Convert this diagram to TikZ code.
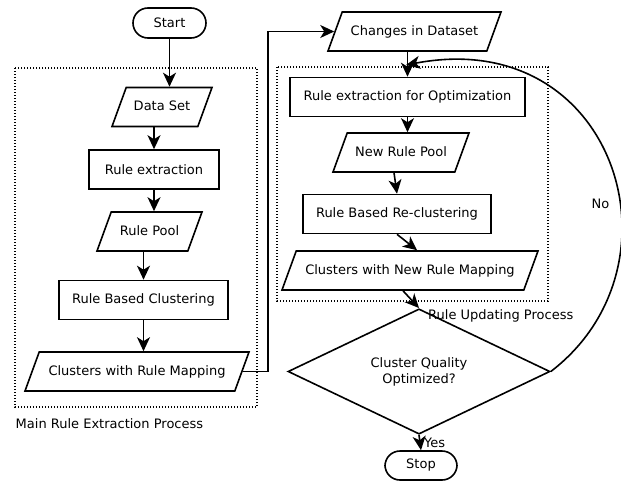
\documentclass[tikz,border=0pt]{standalone}
\usepackage{fontspec}
\setmainfont{DejaVu Sans}
\usetikzlibrary{shapes.geometric,arrows.meta}
\begin{document}
\begin{tikzpicture}[x=1pt,y=-1pt,
  every node/.style={font=\fontsize{13}{16}\selectfont},
  proc/.style={draw,line width=1.6pt,inner sep=0pt,minimum height=39pt},
  io/.style={draw,trapezium,trapezium left angle=70,trapezium right angle=110,trapezium stretches body=true,line width=1.6pt,text height=10pt,text depth=3pt,inner xsep=0pt,inner ysep=13pt},
  term/.style={draw,rounded corners=15pt,line width=1.6pt,inner sep=0pt,minimum height=30pt},
  decision/.style={draw,diamond,line width=1.6pt,inner sep=0pt,align=center},
  flow/.style={draw,line width=1.6pt,-{Stealth[length=14pt,width=13pt,inset=4pt]}},
  region/.style={line width=1.3pt,dash pattern=on 1.3pt off 1.7pt}]
\useasboundingbox (0,0) rectangle (621,482);
\draw[region] (15,68) rectangle (257,407);
\draw[region] (277,67) rectangle (548,301);

\node[term,minimum width=73pt] (start) at (169.5,23) {Start};
\node[io,minimum width=100pt] (dset) at (162,107) {Data Set};
\node[proc,minimum width=130pt] (rex) at (154,169.5) {Rule extraction};
\node[io,minimum width=105pt] (rpool) at (149.5,231.5) {Rule Pool};
\node[proc,minimum width=169pt] (rbc) at (143.5,300) {Rule Based Clustering};
\node[io,minimum width=224pt] (crm) at (137,371.5) {Clusters with Rule Mapping};
\node[anchor=base west,inner sep=0pt] (mainlbl) at (15.5,428) {Main Rule Extraction Process};

\node[io,minimum width=173pt] (chg) at (414.5,31.5) {Changes in Dataset};
\node[proc,minimum width=235pt] (reo) at (407.5,97) {Rule extraction for Optimization};
\node[io,minimum width=136pt] (nrp) at (401,152.5) {New Rule Pool};
\node[proc,minimum width=188pt] (rbr) at (397,214) {Rule Based Re-clustering};
\node[io,minimum width=256pt] (cnrm) at (410,270.5) {Clusters with New Rule Mapping};
\node[anchor=base west,inner sep=0pt] (updlbl) at (428,319) {Rule Updating Process};
\node[decision,minimum width=262pt,minimum height=87pt] (dia) at (419,371.5) {Cluster Quality\\Optimized?};
\node[term,minimum width=72pt,minimum height=29pt] (stop) at (421,465.5) {Stop};
\node[anchor=base west,inner sep=0pt] (nolbl) at (591.5,208) {No};
\coordinate (back) at (406,65);

% main process
\path[flow] (start.south) -- (start |- dset.north);
\path[flow] (rex |- dset.south) -- (rex.north);
\path[flow] (rex.south) -- (rex |- rpool.north);
\path[flow] (rbc |- rpool.south) -- (rbc.north);
\path[flow] (rbc.south) -- (rbc |- crm.north);
\path[flow] (crm.east) -- ++(25,0) |- (chg.west);
% updating process
\path[flow] (reo |- chg.south) -- (reo.north);
\path[flow] (reo.south) -- (reo |- nrp.north);
\path[flow] ([xshift=-7pt]nrp.south) -- (rbr.north);
\path[flow] (rbr.south) -- ([xshift=7pt]cnrm.north);
\path[flow] ([xshift=-7pt]cnrm.south) -- (dia.north);
\path[flow] (dia.south) -- node[right] {Yes} (stop.north);
\path[flow] (dia.east) .. controls (690,265) and (615,25) .. (back);
\end{tikzpicture}
\end{document}
